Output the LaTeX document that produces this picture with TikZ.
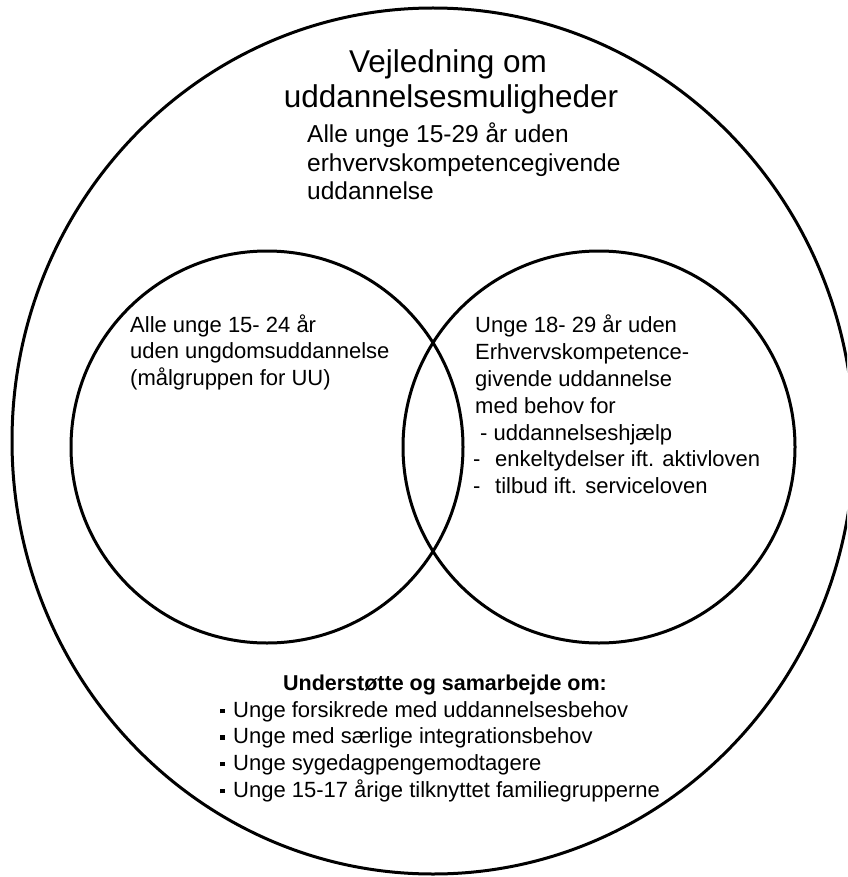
\documentclass[tikz,border=0pt]{standalone}
\usepackage{fontspec}
\setmainfont{Liberation Sans}
\newcommand{\mysq}{\makebox[13pt][l]{\rule[3.6pt]{4.5pt}{4.5pt}}}
\begin{document}
\begin{tikzpicture}[x=1pt,y=-1pt,
  ring/.style={line width=3pt, draw=black},
  titletext/.style={font=\fontsize{31.5}{36}\selectfont, inner sep=0pt, anchor=base},
  subtext/.style={font=\fontsize{24.5}{29}\selectfont, inner sep=0pt, anchor=base west},
  bodytext/.style={font=\fontsize{22}{26}\selectfont, inner sep=0pt, anchor=base west},
  headtext/.style={font=\fontsize{21.5}{26}\selectfont\bfseries, inner sep=0pt, anchor=base}]
\useasboundingbox (0,0) rectangle (847,877);
\fill[white] (0,0) rectangle (847,877);
\begin{scope}
  \clip (0,0) rectangle (847,877);
  \draw[ring] (433,441) ellipse[x radius=421, y radius=433];
\end{scope}
\draw[ring] (267,447) circle[radius=196];
\draw[ring] (599,447) circle[radius=196];
% title
\node[titletext] (t1) at (448,73) {Vejledning om};
\node[titletext] (t2) at (451,108) {uddannelsesmuligheder};
\node[subtext] (s1) at (307,143) {Alle unge 15-29 år uden};
\node[subtext] (s2) at (307,172) {erhvervskompetencegivende};
\node[subtext] (s3) at (307,200) {uddannelse};
% left circle
\node[bodytext] (l1) at (130,332) {Alle unge 15- 24 år};
\node[bodytext] (l2) at (130,358.5) {uden ungdomsuddannelse};
\node[bodytext] (l3) at (130,385) {(målgruppen for UU)};
% right circle
\node[bodytext] (r1) at (475,332) {Unge 18- 29 år uden};
\node[bodytext] (r2) at (475,359) {Erhvervskompetence-};
\node[bodytext] (r3) at (475,386) {givende uddannelse};
\node[bodytext] (r4) at (475,413) {med behov for};
\node[bodytext] (r5) at (480,440) {- uddannelseshjælp};
\node[bodytext] (r6) at (473,466.5) {\makebox[22pt][l]{-}enkeltydelser ift. aktivloven};
\node[bodytext] (r7) at (473,493) {\makebox[22pt][l]{-}tilbud ift. serviceloven};
% bottom
\node[headtext] (h) at (445,690) {Understøtte og samarbejde om:};
\node[bodytext] (b1) at (220,717) {\mysq Unge forsikrede med uddannelsesbehov};
\node[bodytext] (b2) at (220,743.5) {\mysq Unge med særlige integrationsbehov};
\node[bodytext] (b3) at (220,770) {\mysq Unge sygedagpengemodtagere};
\node[bodytext] (b4) at (220,797) {\mysq Unge 15-17 årige tilknyttet familiegrupperne};
\end{tikzpicture}
\end{document}
